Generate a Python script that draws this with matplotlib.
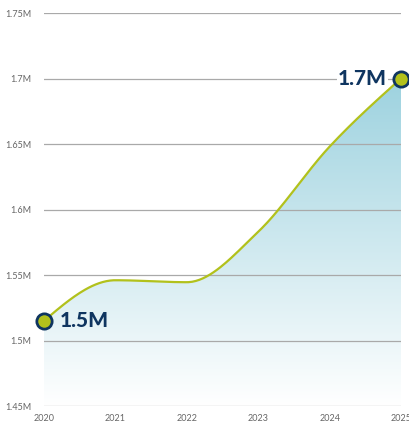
import numpy as np
import matplotlib
matplotlib.use("Agg")
import matplotlib.pyplot as plt
from matplotlib.colors import LinearSegmentedColormap
from matplotlib.patches import PathPatch
from matplotlib.path import Path

years = [2020, 2021, 2022, 2023, 2024, 2025]
values = [1.515, 1.546, 1.5445, 1.583, 1.648, 1.700]
ytick_vals = [1.45, 1.5, 1.55, 1.6, 1.65, 1.7, 1.75]
ytick_labels = ["1.45M", "1.5M", "1.55M", "1.6M", "1.65M", "1.7M", "1.75M"]
start_label = "1.5M"
end_label = "1.7M"

LINE = "#b2c11c"
NAVY = "#0f3560"
FILL_TOP = "#9dd2df"

def monotone(x, y, n=40):
    x = np.asarray(x, float); y = np.asarray(y, float)
    h = np.diff(x); d = np.diff(y) / h
    m = np.zeros_like(y)
    for i in range(1, len(y) - 1):
        if d[i - 1] * d[i] <= 0:
            m[i] = 0
        else:
            m[i] = (h[i-1]*d[i] + h[i]*d[i-1]) / (h[i-1] + h[i])
            m[i] = np.sign(d[i]) * min(abs(m[i]), 3*min(abs(d[i-1]), abs(d[i])))
    m[0] = (3*d[0] - m[1]) / 2
    m[-1] = (3*d[-1] - m[-2]) / 2
    xs, ys = [], []
    for i in range(len(h)):
        t = np.linspace(0, 1, n, endpoint=(i == len(h) - 1))
        h00 = 2*t**3 - 3*t**2 + 1; h10 = t**3 - 2*t**2 + t
        h01 = -2*t**3 + 3*t**2; h11 = t**3 - t**2
        xs.append(x[i] + t*h[i])
        ys.append(h00*y[i] + h10*h[i]*m[i] + h01*y[i+1] + h11*h[i]*m[i+1])
    return np.concatenate(xs), np.concatenate(ys)

fig = plt.figure(figsize=(4.09, 4.24), dpi=100)
ax = fig.add_axes([44/409, (424-406)/424, (401-44)/409, (406-13)/424])
ax.set_xlim(2020, 2025)
ax.set_ylim(1.45, 1.75)

xs, ys = monotone(years, values)

cmap = LinearSegmentedColormap.from_list("g", ["#ffffff", FILL_TOP])
grad = np.linspace(0, 1, 256).reshape(-1, 1)
im = ax.imshow(grad, extent=[2020, 2025, 1.45, max(values)], origin="lower",
               aspect="auto", cmap=cmap, zorder=1)
verts = np.vstack([np.column_stack([xs, ys]), [[2025, 1.45], [2020, 1.45], [xs[0], ys[0]]]])
codes = [Path.MOVETO] + [Path.LINETO]*(len(verts) - 2) + [Path.CLOSEPOLY]
patch = PathPatch(Path(verts, codes), facecolor="none", edgecolor="none")
ax.add_patch(patch)
im.set_clip_path(patch)

for v in ytick_vals:
    ax.axhline(v, color="#a9a9a9", lw=0.9, zorder=2)

ax.plot(xs, ys, color=LINE, lw=1.6, zorder=3, solid_capstyle="round")
ax.plot([years[0], years[-1]], [values[0], values[-1]], "o", ms=11,
        mfc=LINE, mec=NAVY, mew=2, zorder=5, clip_on=False)

ax.annotate(start_label, (years[0], values[0]), xytext=(11, 0), textcoords="offset points",
            ha="left", va="center", fontsize=15, fontweight="black", color=NAVY,
            family="Lato", zorder=6)
ax.annotate(end_label, (years[-1], values[-1]), xytext=(-10, 0), textcoords="offset points",
            ha="right", va="center", fontsize=15, fontweight="black", color=NAVY,
            family="Lato", zorder=6,
            bbox=dict(facecolor="white", edgecolor="none", pad=0.5))

for s in ax.spines.values():
    s.set_visible(False)
ax.set_yticks(ytick_vals)
ax.set_yticklabels(ytick_labels)
ax.set_xticks(years)
ax.set_xticklabels([str(y) for y in years])
ax.tick_params(axis="both", length=0, labelsize=6.5, labelcolor="#666666")
ax.tick_params(axis="y", pad=9)
ax.tick_params(axis="x", pad=6)
for lab in ax.get_xticklabels() + ax.get_yticklabels():
    lab.set_family("Lato")

fig.savefig("out.png", dpi=100)
